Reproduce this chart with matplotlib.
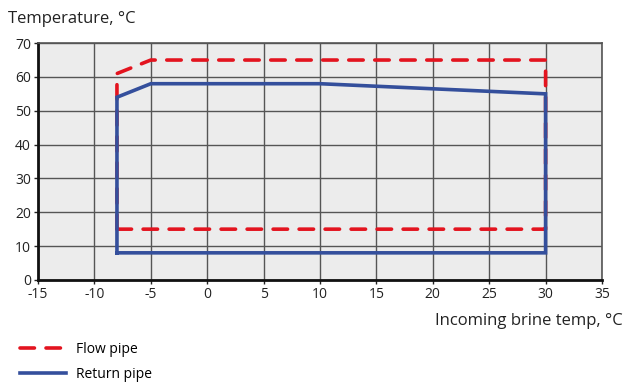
import matplotlib
matplotlib.use("Agg")
import matplotlib.pyplot as plt
from matplotlib.lines import Line2D

plt.rcParams['font.family'] = ['Open Sans', 'DejaVu Sans']
plt.rcParams['axes.unicode_minus'] = False

flow_x = [-8, -8, -5, 30, 30, -8]
flow_y = [15, 61, 65, 65, 15, 15]
return_x = [-8, -8, -5, 10, 30, 30, -8]
return_y = [8, 54, 58, 58, 55, 8, 8]
xticks = [-15, -10, -5, 0, 5, 10, 15, 20, 25, 30, 35]
yticks = [0, 10, 20, 30, 40, 50, 60, 70]

fig = plt.figure(figsize=(6.27, 3.85), dpi=100)
ax = fig.add_axes([0.0606, 0.273, 0.8995, 0.615])
ax.set_facecolor('#ececec')
ax.set_xlim(-15, 35)
ax.set_ylim(0, 70)
ax.set_xticks(xticks)
ax.set_yticks(yticks)
ax.grid(True, color='#555555', linewidth=1.0)
ax.set_axisbelow(True)
for s in ['top', 'right']:
    ax.spines[s].set_color('#555555')
    ax.spines[s].set_linewidth(1.2)
for s in ['left', 'bottom']:
    ax.spines[s].set_color('#111111')
    ax.spines[s].set_linewidth(2)
ax.tick_params(labelsize=10, colors='#222222', length=3, width=1, pad=2)

red = '#e3141f'
blue = '#344f9c'
ax.plot(flow_x, flow_y, color=red, linewidth=2.6, dashes=(4, 3.2), dash_capstyle='round')
ax.plot(return_x, return_y, color=blue, linewidth=2.6, solid_joinstyle='miter')

fig.text(0.013, 0.94, 'Temperature, °C', fontsize=12, color='#222222', va='baseline')
fig.text(0.993, 0.155, 'Incoming brine temp, °C', fontsize=12, color='#222222', ha='right', va='baseline')

handles = [Line2D([0], [0], color=red, linewidth=2.6, dashes=(4, 3.2), dash_capstyle='round'),
           Line2D([0], [0], color=blue, linewidth=2.6)]
fig.legend(handles, ['Flow pipe', 'Return pipe'], loc='lower left', bbox_to_anchor=(0.012, -0.025),
           frameon=False, fontsize=10, handlelength=3.3, labelspacing=0.75, handletextpad=0.7)

fig.savefig('out.png', dpi=100)
